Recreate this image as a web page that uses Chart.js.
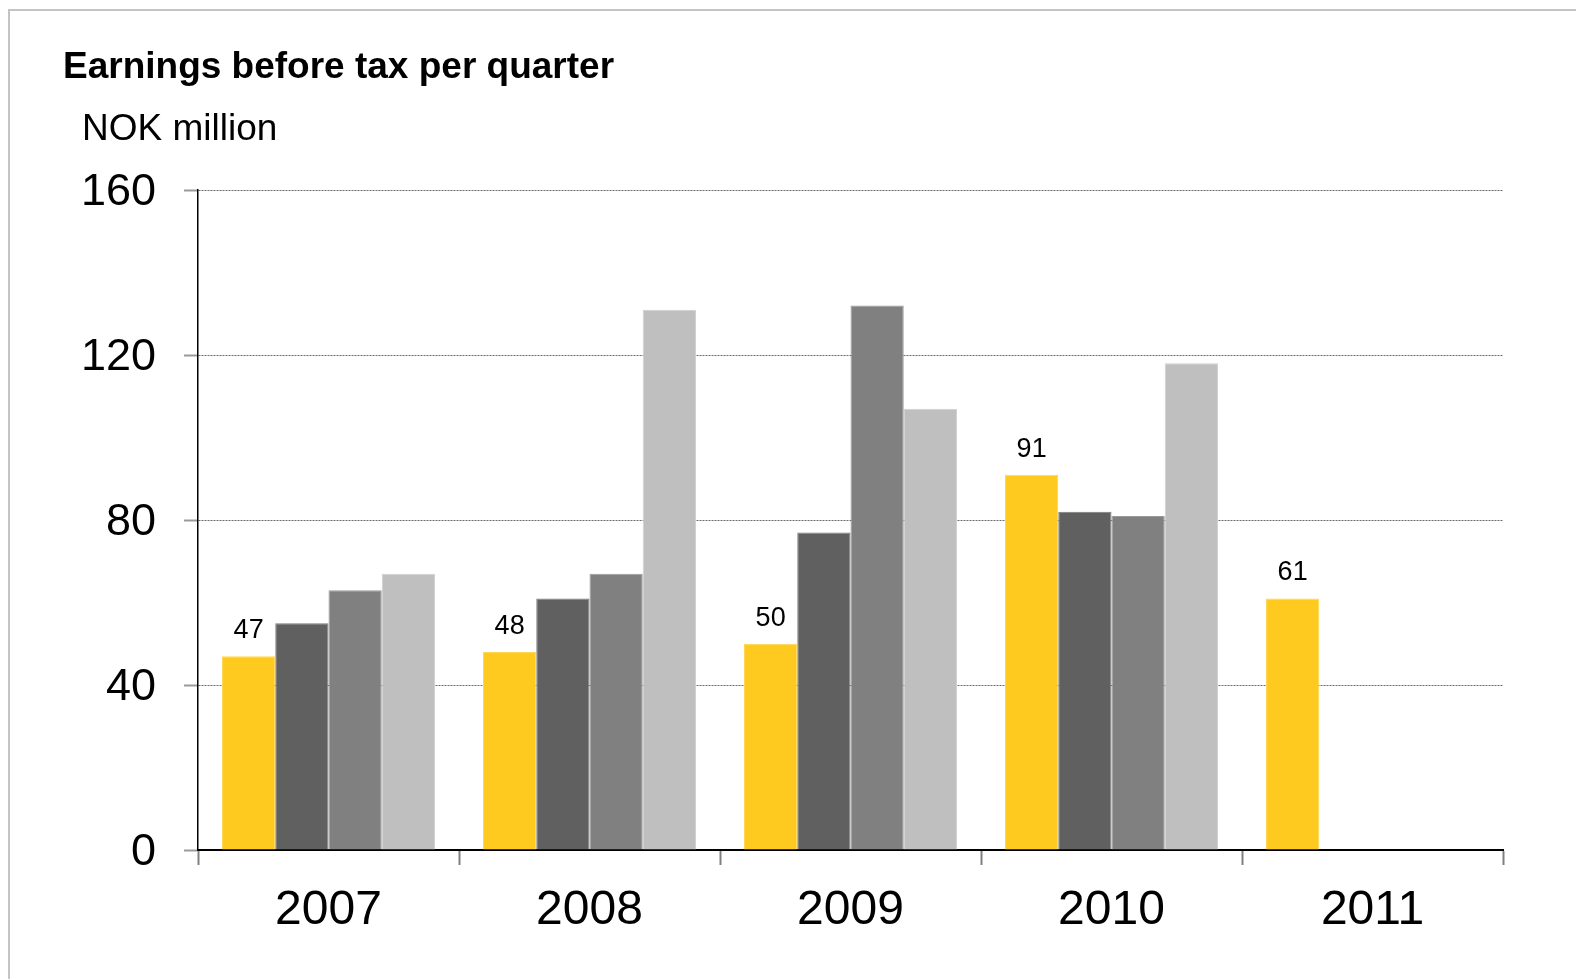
<!DOCTYPE html>
<html>
<head>
<meta charset="utf-8">
<script src="https://cdn.jsdelivr.net/npm/chart.js@4"></script>
<style>
  html, body { margin: 0; padding: 0; background: #fff; overflow: hidden; }
  #frame {
    position: absolute; left: 8px; top: 9px; width: 1700px; height: 1100px;
    border-left: 2px solid #c4c4c4; border-top: 2px solid #c4c4c4;
  }
  .txt { position: absolute; font-family: "Liberation Sans", Arial, sans-serif; color: #000; white-space: nowrap; line-height: 1; }
  #title { left: 63px; top: 47px; font-size: 37px; font-weight: bold; }
  #unit { left: 82px; top: 109px; font-size: 37px; }
  #trends { position: absolute; left: 0; top: 0; }
</style>
</head>
<body>
<div id="frame"></div>
<canvas id="trends" width="1576" height="979"></canvas>
<div class="txt" id="title">Earnings before tax per quarter</div>
<div class="txt" id="unit">NOK million</div>
<script>
const years = ['2007', '2008', '2009', '2010', '2011'];
const q1 = [47, 48, 50, 91, 61];
const q2 = [55, 61, 77, 82, null];
const q3 = [63, 67, 132, 81, null];
const q4 = [67, 131, 107, 118, null];
const yTicks = [0, 40, 80, 120, 160];

const FONT = '"Liberation Sans", Arial, sans-serif';

// value labels above the first-quarter bars
const q1Labels = {
    id: 'q1Labels',
    afterDatasetsDraw(chart) {
        const ctx = chart.ctx;
        const meta = chart.getDatasetMeta(0);
        ctx.save();
        ctx.font = '27px ' + FONT;
        ctx.fillStyle = '#000';
        ctx.textAlign = 'center';
        ctx.textBaseline = 'alphabetic';
        meta.data.forEach((bar, i) => {
            if (q1[i] == null) return;
            ctx.fillText(String(q1[i]), bar.x, bar.y - 18);
        });
        ctx.restore();
    }
};

const bar = (label, data, color, edge) => ({
    label, data,
    backgroundColor: color,
    borderColor: edge,
    borderWidth: 1,
    categoryPercentage: 0.816,
    barPercentage: 1
});

new Chart(document.getElementById('trends').getContext('2d'), {
    type: 'bar',
    data: {
        labels: years,
        datasets: [
            bar('Q1', q1, '#ffca20', '#ffd650'),
            bar('Q2', q2, '#606060', '#7a7a7a'),
            bar('Q3', q3, '#808080', '#9a9a9a'),
            bar('Q4', q4, '#bfbfbf', '#d0d0d0')
        ]
    },
    options: {
        responsive: false,
        animation: false,
        layout: { padding: { top: 190, right: 73, bottom: 0, left: 0 } },
        plugins: {
            legend: { display: false },
            tooltip: { enabled: false }
        },
        scales: {
            x: {
                afterFit(scale) { scale.height = 129; },
                grid: {
                    offset: true,
                    drawOnChartArea: false,
                    drawTicks: true,
                    tickLength: 15,
                    tickColor: '#808080',
                    tickWidth: 2
                },
                border: { color: '#000', width: 2 },
                ticks: {
                    color: '#000',
                    font: { family: FONT, size: 48 },
                    padding: 17,
                    maxRotation: 0
                }
            },
            y: {
                min: 0,
                max: 160,
                afterFit(scale) { scale.width = 198; },
                afterBuildTicks(scale) { scale.ticks = yTicks.map(v => ({ value: v })); },
                grid: {
                    color: '#6a6a6a',
                    lineWidth: 1,
                    drawTicks: true,
                    tickLength: 14,
                    tickColor: '#9a9a9a',
                    tickWidth: 2,
                    tickBorderDash: []
                },
                border: { color: '#000', width: 1.5, dash: [2, 1] },
                ticks: {
                    color: '#000',
                    font: { family: FONT, size: 45 },
                    padding: 28,
                    labelOffset: 3
                }
            }
        }
    },
    plugins: [q1Labels]
});
</script>
</body>
</html>
